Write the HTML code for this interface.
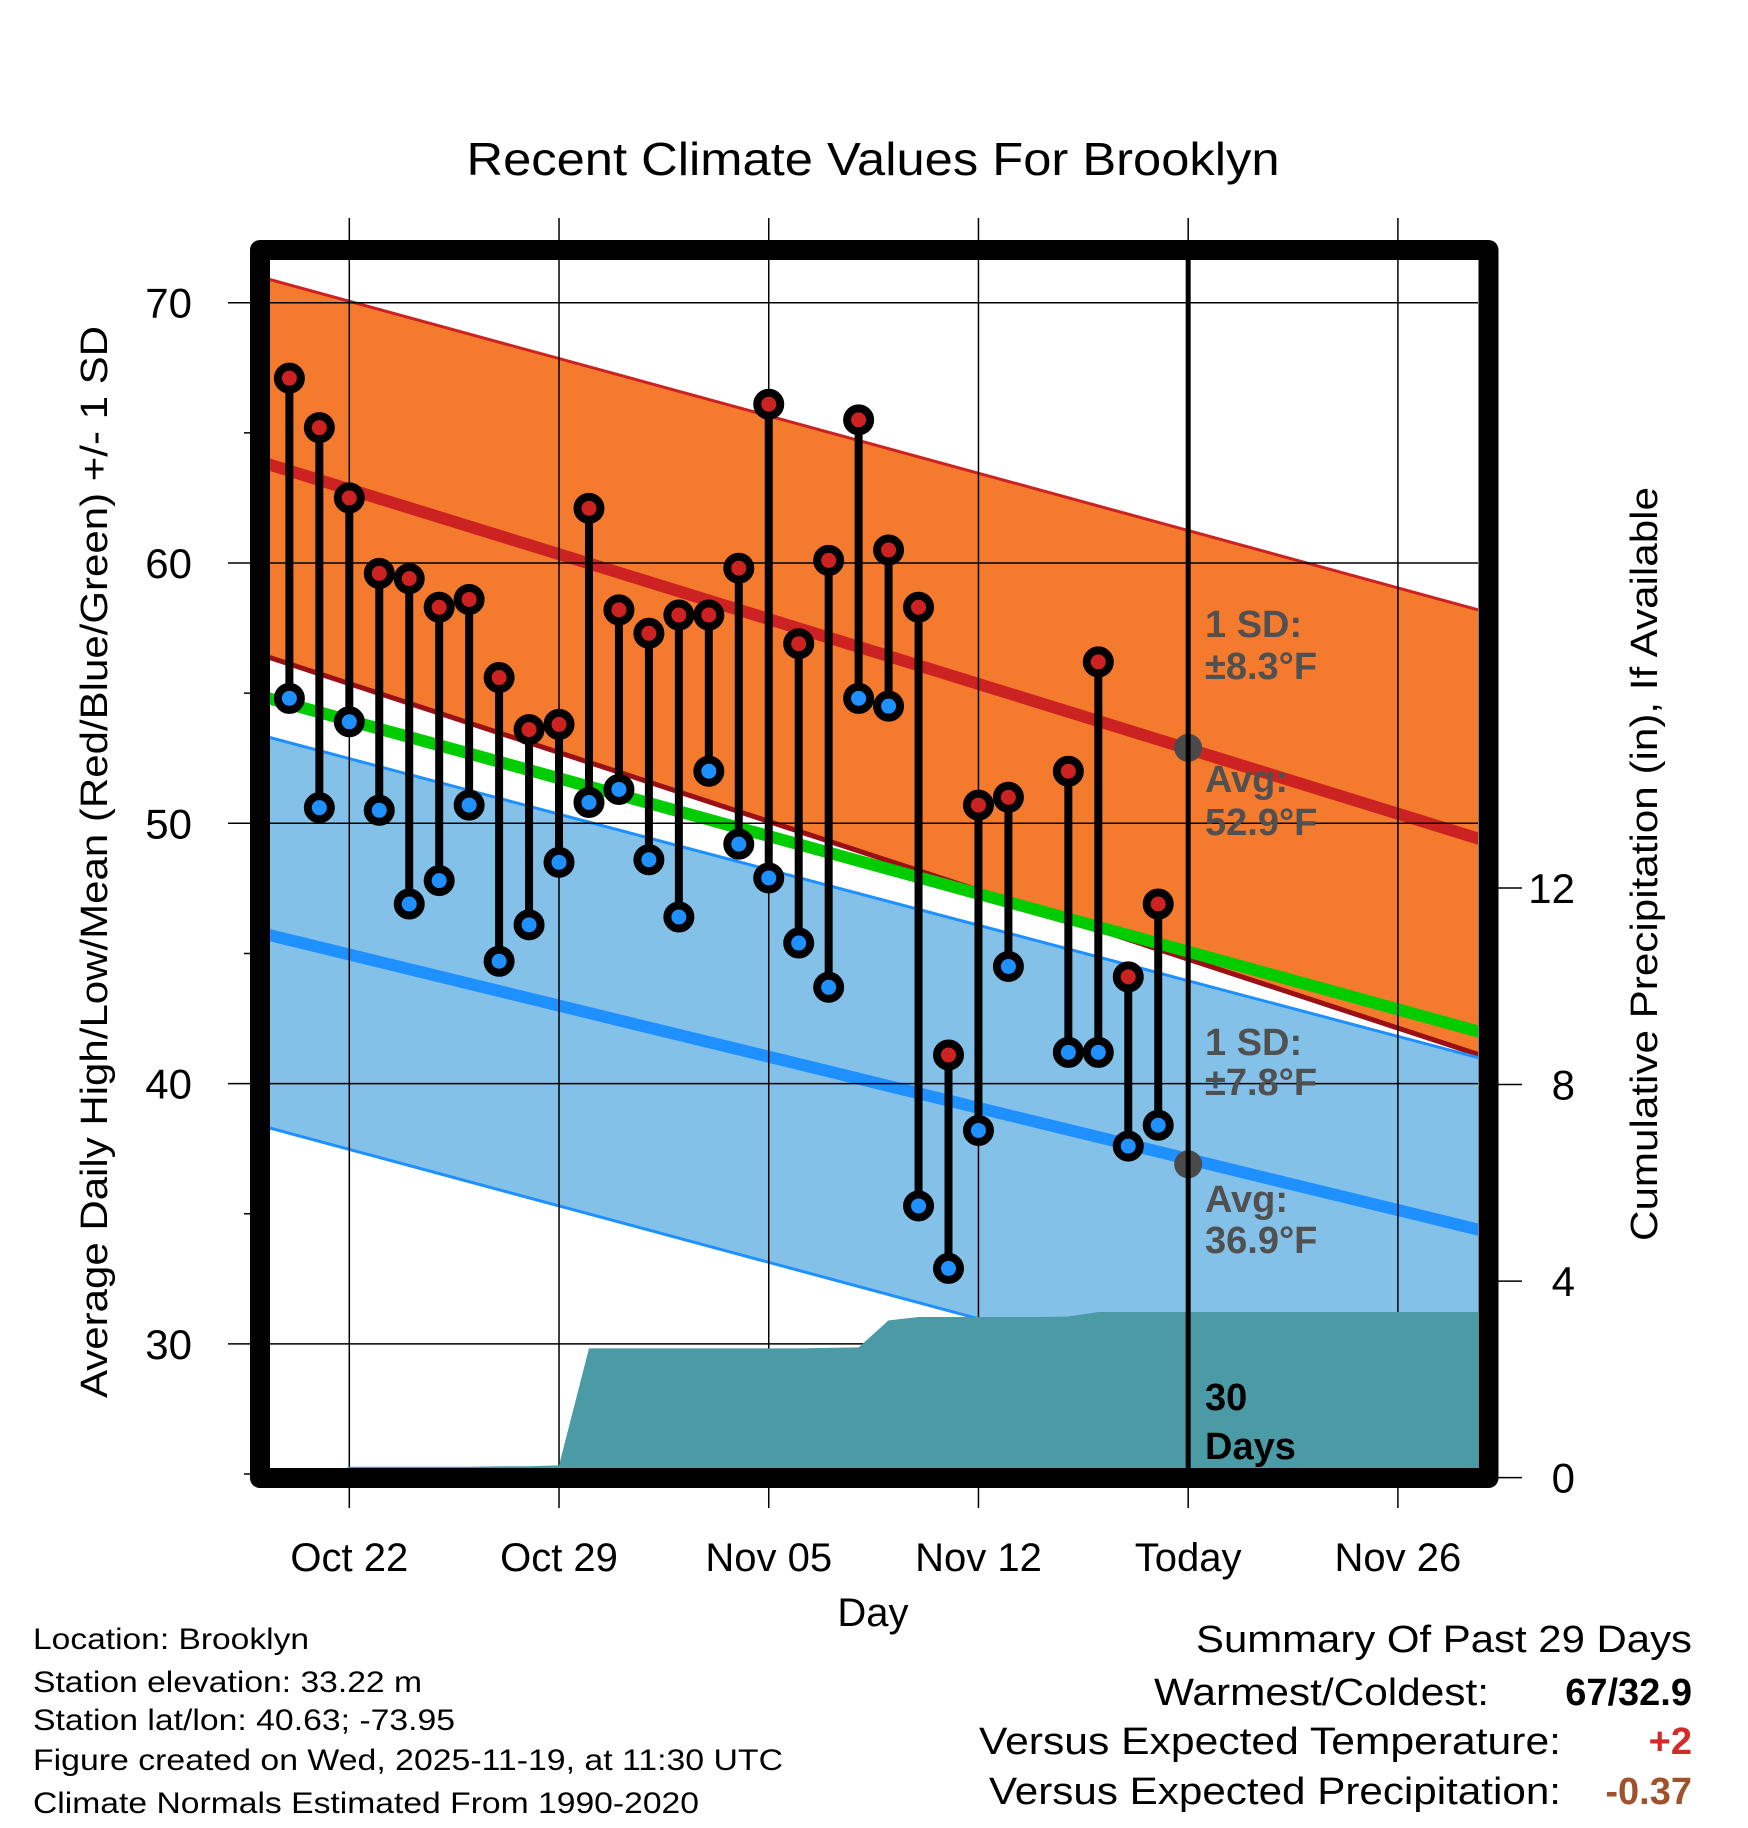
<!DOCTYPE html>
<html><head><meta charset="utf-8"><style>
html,body{margin:0;padding:0;background:#fff;}
svg{display:block;font-family:"Liberation Sans",sans-serif;}
</style></head><body>
<svg id="chart" width="1748" height="1828" viewBox="0 0 1748 1828" xmlns="http://www.w3.org/2000/svg">
<defs><clipPath id="plotclip"><rect x="270" y="260" width="1208" height="1208"/></clipPath></defs>
<g id="bands" clip-path="url(#plotclip)"></g>
<g id="grid"></g>
<g id="precip" clip-path="url(#plotclip)"></g>
<g id="points"></g>
<g id="anno"></g>
<rect x="260" y="250" width="1228.5" height="1228" fill="none" stroke="#000" stroke-width="20" stroke-linejoin="round"/>
<text x="873" y="175" font-size="46" text-anchor="middle" textLength="813" lengthAdjust="spacingAndGlyphs">Recent Climate Values For Brooklyn</text>
<text transform="translate(107,862) rotate(-90)" font-size="38" text-anchor="middle" textLength="1072" lengthAdjust="spacingAndGlyphs">Average Daily High/Low/Mean (Red/Blue/Green) +/- 1 SD</text>
<text transform="translate(1657,864) rotate(-90)" font-size="38" text-anchor="middle" textLength="754" lengthAdjust="spacingAndGlyphs">Cumulative Precipitation (in), If Available</text>
<text x="873" y="1626" font-size="40" text-anchor="middle">Day</text>
<g font-size="30">
<text x="33" y="1649" textLength="276" lengthAdjust="spacingAndGlyphs">Location: Brooklyn</text>
<text x="33" y="1692" textLength="389" lengthAdjust="spacingAndGlyphs">Station elevation: 33.22 m</text>
<text x="33" y="1730" textLength="422" lengthAdjust="spacingAndGlyphs">Station lat/lon: 40.63; -73.95</text>
<text x="33" y="1770" textLength="750" lengthAdjust="spacingAndGlyphs">Figure created on Wed, 2025-11-19, at 11:30 UTC</text>
<text x="33" y="1813" textLength="666" lengthAdjust="spacingAndGlyphs">Climate Normals Estimated From 1990-2020</text>
</g>
<g font-size="38">
<text x="1692" y="1652" text-anchor="end" textLength="496" lengthAdjust="spacingAndGlyphs">Summary Of Past 29 Days</text>
<text x="1489" y="1705" text-anchor="end" textLength="335" lengthAdjust="spacingAndGlyphs">Warmest/Coldest:</text>
<text x="1692" y="1705" text-anchor="end" font-weight="bold">67/32.9</text>
<text x="1561" y="1754" text-anchor="end" textLength="582" lengthAdjust="spacingAndGlyphs">Versus Expected Temperature:</text>
<text x="1692" y="1754" text-anchor="end" font-weight="bold" fill="#D42A2A">+2</text>
<text x="1561" y="1804" text-anchor="end" textLength="572" lengthAdjust="spacingAndGlyphs">Versus Expected Precipitation:</text>
<text x="1692" y="1804" text-anchor="end" font-weight="bold" fill="#A0522D">-0.37</text>
</g>
<script>
const highs=[67.1,65.2,62.5,59.6,59.4,58.3,58.6,55.6,53.6,53.8,62.1,58.2,57.3,58.0,58.0,59.8,66.1,56.9,60.1,65.5,60.5,58.3,41.1,50.7,51.0,null,52.0,56.2,44.1,46.9];
const lows=[54.8,50.6,53.9,50.5,46.9,47.8,50.7,44.7,46.1,48.5,50.8,51.3,48.6,46.4,52.0,49.2,47.9,45.4,43.7,54.8,54.5,35.3,32.9,38.2,44.5,null,41.2,41.2,37.6,38.4];
const firstDay=-2;
const precip=[0,0,0.22,0.22,0.22,0.22,0.22,0.23,0.23,0.25,2.63,2.63,2.63,2.63,2.63,2.63,2.63,2.63,2.64,2.65,3.2,3.27,3.27,3.27,3.27,3.27,3.28,3.37,3.37,3.37];
const bandDays=[-3,38];
const upperSD=[71.0,58.1];
const avgHigh=[63.9,49.3];
const lowerSD=[56.5,41.0];
const meanLine=[54.9,41.9];
const blueUpper=[53.4,40.9];
const avgLow=[45.8,34.3];
const blueLower=[38.4,25.7];
const todayAvg=[52.9,36.9];
const xTickDays=[0,7,14,21,28,35];
const xTickLabels=["Oct 22","Oct 29","Nov 05","Nov 12","Today","Nov 26"];
const yTicks=[30,40,50,60,70];
const yMinor=[25,35,45,55,65];
const pTicks=[0,4,8,12];
const todayDay=28;

const NS="http://www.w3.org/2000/svg";
const X=d=>349.3+d*29.96;
const Y=v=>302.7+(70-v)*26.03;
const P=p=>1477.6-p*49.13;
function mk(tag,attrs,parent){const e=document.createElementNS(NS,tag);for(const k in attrs)e.setAttribute(k,attrs[k]);parent.appendChild(e);return e;}
const bands=document.getElementById('bands'),grid=document.getElementById('grid'),pr=document.getElementById('precip'),pts=document.getElementById('points'),an=document.getElementById('anno'),svg=document.getElementById('chart');
function seg(arr){return bandDays.map((d,i)=>X(d)+','+Y(arr[i]));}
function poly(a,b){return seg(a).concat(seg(b).reverse()).join(' ');}
let e;
e=mk('polygon',{points:poly(upperSD,lowerSD),fill:'#F47A2E'},bands);

e=mk('polyline',{points:seg(upperSD).join(' '),fill:'none',stroke:'#CC2222','stroke-width':3},bands);

e=mk('polyline',{points:seg(lowerSD).join(' '),fill:'none',stroke:'#9A1015','stroke-width':5},bands);

e=mk('polygon',{points:poly(blueUpper,blueLower),fill:'#84C1E8'},bands);

e=mk('polyline',{points:seg(blueUpper).join(' '),fill:'none',stroke:'#1E90FF','stroke-width':3},bands);

e=mk('polyline',{points:seg(blueLower).join(' '),fill:'none',stroke:'#1E90FF','stroke-width':3},bands);

e=mk('polyline',{points:seg(avgHigh).join(' '),fill:'none',stroke:'#CC2222','stroke-width':12},bands);

e=mk('polyline',{points:seg(avgLow).join(' '),fill:'none',stroke:'#1E90FF','stroke-width':12},bands);

e=mk('polyline',{points:seg(meanLine).join(' '),fill:'none',stroke:'#00CC00','stroke-width':12},bands);


xTickDays.forEach((d,i)=>{
  e=mk('line',{x1:X(d),x2:X(d),y1:218,y2:1508,stroke:'#000','stroke-width':1.5},grid);
  
  e=mk('text',{x:X(d),y:1571,'font-size':40,'text-anchor':'middle'},svg);
  e.textContent=xTickLabels[i];
  
});
yTicks.forEach(v=>{
  e=mk('line',{x1:228,x2:1478,y1:Y(v),y2:Y(v),stroke:'#000','stroke-width':1.5},grid);
  
  e=mk('text',{x:192,y:Y(v)+15,'font-size':42,'text-anchor':'end'},svg);
  e.textContent=v;
  
});
yMinor.forEach(v=>{
  e=mk('line',{x1:244,x2:262,y1:Y(v),y2:Y(v),stroke:'#000','stroke-width':1.5},svg);
  
});
pTicks.forEach(p=>{
  e=mk('line',{x1:1490,x2:1522,y1:P(p),y2:P(p),stroke:'#000','stroke-width':1.5},svg);
  
  e=mk('text',{x:1575,y:P(p)+15,'font-size':42,'text-anchor':'end'},svg);
  e.textContent=p;
  
});

let pp=precip.map((p,i)=>X(firstDay+i)+','+P(p));
pp.push('1480,'+P(precip[precip.length-1]));
pp.push('1480,'+P(0));pp.push(X(firstDay)+','+P(0));
e=mk('polygon',{points:pp.join(' '),fill:'#4A9BA5'},pr);


e=mk('line',{x1:X(todayDay),x2:X(todayDay),y1:260,y2:1468,stroke:'#000','stroke-width':5},svg);


highs.forEach((h,i)=>{
  const l=lows[i]; if(h===null||l===null)return;
  const x=X(firstDay+i);
  const g=mk('g',{},pts);
  
  e=mk('line',{x1:x,x2:x,y1:Y(h),y2:Y(l),stroke:'#000','stroke-width':8},g);
  
  e=mk('circle',{cx:x,cy:Y(h),r:11.5,fill:'#CC2222',stroke:'#000','stroke-width':8},g);
  
  e=mk('circle',{cx:x,cy:Y(l),r:11.5,fill:'#1E90FF',stroke:'#000','stroke-width':8},g);
  
});

e=mk('circle',{cx:X(todayDay),cy:Y(todayAvg[0]),r:14,fill:'#4A4A4A'},an);

e=mk('circle',{cx:X(todayDay),cy:Y(todayAvg[1]),r:14,fill:'#4A4A4A'},an);


const labels=[["1 SD:",637,'#505050'],["±8.3°F",679,'#505050'],["Avg:",792,'#505050'],["52.9°F",835,'#505050'],["1 SD:",1055,'#505050'],["±7.8°F",1095,'#505050'],["Avg:",1212,'#505050'],["36.9°F",1253,'#505050'],["30",1410,'#000'],["Days",1459,'#000']];
labels.forEach(t=>{
  e=mk('text',{x:1205,y:t[1],'font-size':38,'font-weight':'bold',fill:t[2]},an);
  e.textContent=t[0];
  
});
</script>
</svg>
</body></html>
